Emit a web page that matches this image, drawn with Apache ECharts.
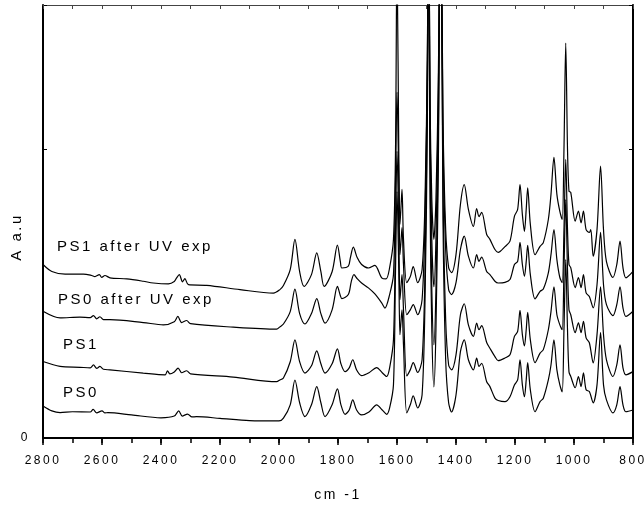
<!DOCTYPE html>
<html>
<head>
<meta charset="utf-8">
<script src="https://cdn.jsdelivr.net/npm/echarts@6/dist/echarts.min.js"></script>
<style>html,body{margin:0;padding:0;background:#fff}#c{width:644px;height:506px}</style>
</head>
<body>
<div id="c"></div>
<script>
// [wavenumber (cm-1), absorbance (a.u., offset traces)]
var ps1AfterUV = [
[2800,0.601],[2770,0.577],[2725,0.568],[2663,0.568],[2635,0.563],[2624,0.559],[2609,0.566],[2601,0.556],[2590,0.563],[2573,0.555],
[2516,0.551],[2460,0.543],[2426,0.537],[2375,0.534],[2355,0.542],[2347,0.555],[2338,0.566],[2327,0.541],[2319,0.552],[2307,0.531],
[2245,0.529],[2132,0.514],[2019,0.502],[1997,0.514],[1985,0.528],[1962,0.583],[1946,0.688],[1930,0.576],[1915,0.525],[1890,0.566],
[1872,0.641],[1858,0.576],[1847,0.525],[1820,0.576],[1802,0.668],[1792,0.611],[1787,0.589],[1765,0.595],[1758,0.625],[1748,0.661],
[1735,0.625],[1720,0.601],[1697,0.589],[1675,0.598],[1652,0.555],[1637,0.551],[1625,0.590],[1612,0.688],[1605,1.0],[1600,1.7],
[1594,1.0],[1590,0.740],[1586,0.809],[1583,0.861],[1578,0.688],[1567,0.538],[1555,0.559],[1545,0.594],[1530,0.538],[1515,0.583],
[1505,0.826],[1497,1.347],[1493,2.0],[1488,1.174],[1482,0.826],[1475,0.688],[1468,0.826],[1460,1.243],[1452,2.0],[1444,1.104],
[1435,0.722],[1425,0.590],[1415,0.573],[1400,0.635],[1385,0.809],[1372,0.878],[1358,0.792],[1341,0.733],[1330,0.795],[1322,0.767],
[1313,0.782],[1296,0.705],[1285,0.688],[1268,0.653],[1257,0.643],[1234,0.663],[1217,0.682],[1202,0.768],[1191,0.792],[1183,0.878],
[1175,0.774],[1168,0.716],[1162,0.792],[1157,0.867],[1148,0.740],[1132,0.635],[1115,0.664],[1104,0.677],[1087,0.757],[1078,0.844],
[1068,0.972],[1058,0.844],[1048,0.785],[1040,0.757],[1034,1.0],[1028,1.368],[1022,1.0],[1017,0.855],[1011,0.851],[996,0.751],
[985,0.786],[976,0.745],[968,0.786],[959,0.722],[948,0.712],[943,0.722],[935,0.630],[922,0.722],[910,0.942],[900,0.722],
[890,0.611],[868,0.556],[855,0.601],[844,0.682],[834,0.590],[824,0.555],[800,0.577]
];
var ps0AfterUV = [
[2800,0.439],[2742,0.416],[2675,0.419],[2640,0.417],[2629,0.424],[2618,0.413],[2607,0.420],[2595,0.410],[2573,0.410],[2460,0.400],
[2392,0.392],[2355,0.403],[2343,0.421],[2330,0.400],[2313,0.407],[2300,0.396],[2155,0.384],[2008,0.377],[1997,0.385],[1985,0.395],
[1962,0.438],[1946,0.516],[1930,0.431],[1912,0.395],[1890,0.431],[1872,0.483],[1858,0.431],[1844,0.398],[1820,0.444],[1802,0.525],
[1792,0.493],[1787,0.483],[1765,0.497],[1755,0.542],[1746,0.566],[1735,0.552],[1720,0.537],[1697,0.520],[1675,0.499],[1652,0.468],
[1641,0.450],[1625,0.497],[1612,0.566],[1605,0.896],[1600,1.198],[1594,0.896],[1590,0.635],[1586,0.688],[1583,0.729],[1578,0.601],
[1567,0.427],[1555,0.444],[1545,0.462],[1530,0.427],[1515,0.479],[1505,0.757],[1497,1.313],[1493,2.0],[1488,1.104],[1482,0.688],
[1475,0.524],[1468,0.688],[1460,1.174],[1452,2.0],[1444,1.035],[1435,0.653],[1425,0.514],[1415,0.497],[1400,0.538],[1385,0.653],
[1372,0.699],[1358,0.630],[1341,0.589],[1330,0.635],[1322,0.612],[1313,0.627],[1296,0.577],[1285,0.566],[1268,0.543],[1257,0.537],
[1234,0.539],[1217,0.549],[1202,0.601],[1191,0.612],[1183,0.678],[1175,0.601],[1168,0.560],[1162,0.611],[1157,0.667],[1148,0.566],
[1132,0.482],[1115,0.508],[1104,0.516],[1087,0.572],[1078,0.635],[1068,0.722],[1058,0.618],[1048,0.556],[1040,0.538],[1034,0.722],
[1028,0.965],[1022,0.722],[1017,0.601],[1011,0.590],[996,0.521],[985,0.556],[976,0.521],[968,0.566],[959,0.503],[948,0.490],
[935,0.451],[922,0.531],[910,0.712],[900,0.531],[890,0.462],[868,0.424],[855,0.462],[844,0.524],[834,0.451],[824,0.421],[800,0.439]
];
var ps1 = [
[2800,0.265],[2742,0.248],[2675,0.245],[2640,0.243],[2629,0.253],[2618,0.241],[2607,0.248],[2595,0.238],[2573,0.236],[2460,0.225],
[2386,0.219],[2378,0.233],[2370,0.222],[2355,0.229],[2342,0.242],[2330,0.226],[2313,0.233],[2300,0.222],[2155,0.211],[2008,0.195],
[1997,0.201],[1985,0.208],[1962,0.264],[1946,0.340],[1930,0.264],[1912,0.225],[1890,0.250],[1872,0.302],[1858,0.257],[1844,0.225],
[1820,0.257],[1802,0.309],[1790,0.257],[1776,0.230],[1762,0.243],[1750,0.271],[1737,0.236],[1720,0.216],[1695,0.226],[1669,0.244],
[1650,0.226],[1635,0.213],[1625,0.243],[1612,0.340],[1605,0.722],[1600,0.993],[1594,0.722],[1590,0.479],[1586,0.531],[1583,0.566],
[1578,0.444],[1567,0.215],[1555,0.236],[1545,0.261],[1530,0.227],[1515,0.271],[1505,0.583],[1497,1.208],[1493,2.0],[1488,0.965],
[1482,0.514],[1475,0.323],[1468,0.514],[1460,1.035],[1452,2.0],[1444,0.861],[1435,0.410],[1425,0.253],[1415,0.236],[1400,0.288],
[1385,0.427],[1372,0.465],[1358,0.392],[1341,0.352],[1330,0.398],[1322,0.375],[1313,0.389],[1296,0.331],[1285,0.311],[1268,0.282],
[1257,0.268],[1234,0.277],[1217,0.288],[1202,0.352],[1191,0.369],[1183,0.442],[1175,0.358],[1168,0.319],[1162,0.375],[1157,0.435],
[1148,0.340],[1132,0.261],[1115,0.294],[1104,0.306],[1087,0.375],[1078,0.438],[1068,0.524],[1058,0.427],[1048,0.392],[1040,0.375],
[1034,0.583],[1028,0.826],[1022,0.583],[1017,0.444],[1011,0.427],[996,0.365],[985,0.399],[976,0.365],[968,0.404],[959,0.347],
[948,0.330],[935,0.260],[922,0.358],[910,0.524],[900,0.358],[890,0.271],[868,0.213],[855,0.253],[844,0.323],[834,0.243],[824,0.219],[800,0.230]
];
var ps0 = [
[2800,0.111],[2770,0.094],[2742,0.088],[2700,0.091],[2640,0.090],[2630,0.099],[2618,0.087],[2600,0.094],[2590,0.087],[2580,0.088],
[2500,0.080],[2400,0.070],[2355,0.076],[2340,0.094],[2328,0.076],[2310,0.083],[2295,0.073],[2280,0.074],[2200,0.068],[2100,0.060],
[2000,0.059],[1985,0.069],[1962,0.115],[1946,0.201],[1930,0.122],[1912,0.074],[1890,0.115],[1872,0.178],[1858,0.122],[1844,0.074],
[1820,0.115],[1802,0.170],[1790,0.115],[1776,0.082],[1762,0.097],[1750,0.132],[1737,0.097],[1720,0.080],[1695,0.090],[1669,0.115],
[1650,0.097],[1635,0.082],[1625,0.104],[1612,0.184],[1605,0.583],[1600,0.854],[1594,0.583],[1590,0.358],[1586,0.410],[1583,0.444],
[1578,0.323],[1567,0.087],[1555,0.115],[1545,0.146],[1530,0.104],[1515,0.149],[1505,0.479],[1497,1.104],[1493,2.0],[1488,0.826],
[1482,0.375],[1475,0.177],[1468,0.375],[1460,0.931],[1452,2.0],[1444,0.757],[1435,0.271],[1425,0.122],[1415,0.090],[1400,0.149],
[1385,0.299],[1372,0.340],[1358,0.271],[1341,0.236],[1330,0.277],[1322,0.248],[1313,0.259],[1296,0.195],[1285,0.178],[1268,0.138],
[1257,0.130],[1234,0.126],[1217,0.143],[1202,0.184],[1191,0.201],[1183,0.271],[1175,0.184],[1168,0.143],[1162,0.201],[1157,0.261],
[1148,0.167],[1132,0.091],[1115,0.126],[1104,0.138],[1087,0.201],[1078,0.253],[1068,0.340],[1058,0.236],[1048,0.184],[1040,0.160],
[1034,0.375],[1028,0.618],[1022,0.375],[1017,0.229],[1011,0.213],[996,0.174],[985,0.213],[976,0.178],[968,0.226],[959,0.167],
[948,0.161],[935,0.122],[922,0.184],[910,0.365],[900,0.184],[890,0.132],[868,0.087],[855,0.115],[844,0.178],[834,0.115],[824,0.091],[800,0.097]
];
var seriesNames = ['PS1 after UV exp', 'PS0 after UV exp', 'PS1', 'PS0'];
var seriesData = [ps1AfterUV, ps0AfterUV, ps1, ps0];
var labelPos = [[57, 248], [58, 301], [63, 346], [63, 394]];
var yTitle = 'A a.u';
var xMin = 800, xMax = 2800, yMin = 0, yMax = 1.5;

var FONT = '"Liberation Sans", Arial, sans-serif';
var chart = echarts.init(document.getElementById('c'), null, {renderer: 'canvas'});
var lineStyle = {color: '#000', width: 1.2};
var graphics = seriesNames.map(function (n, i) {
  return {type: 'text', left: labelPos[i][0], top: labelPos[i][1] - 9,
    style: {text: n, fontFamily: FONT, fontSize: 15, fill: '#000'}, z: 10};
});
graphics.push({type: 'text', x: 17, y: 237, rotation: Math.PI / 2,
  style: {text: yTitle, fontFamily: FONT, fontSize: 15, fill: '#000', align: 'center', verticalAlign: 'middle'}, z: 10});
chart.setOption({
  animation: false,
  backgroundColor: '#fff',
  grid: {left: 43, right: 11, top: 5, bottom: 68, containLabel: false, outerBoundsMode: 'none'},
  xAxis: [{
    type: 'value', min: xMin, max: xMax, inverse: true, interval: 200,
    name: 'cm -1', nameLocation: 'middle', nameGap: 50,
    nameTextStyle: {fontFamily: FONT, fontSize: 14, color: '#000'},
    axisLine: {show: true, onZero: false, lineStyle: {color: '#000', width: 2}},
    axisTick: {show: true, inside: false, length: 7, lineStyle: {color: '#000', width: 1.5}},
    axisLabel: {fontFamily: FONT, fontSize: 12, color: '#000', margin: 17,
      formatter: function (v) { return String(v); }},
    splitLine: {show: false}
  }, {
    type: 'value', position: 'top', min: xMin, max: xMax, inverse: true, interval: 100,
    axisLine: {show: true, onZero: false, lineStyle: {color: '#444', width: 1}},
    axisTick: {show: true, inside: true, length: 4, lineStyle: {color: '#444', width: 1}},
    axisLabel: {show: false}, splitLine: {show: false}
  }, {
    type: 'value', position: 'bottom', min: xMin, max: xMax, inverse: true, interval: 100,
    axisLine: {show: false, onZero: false},
    axisTick: {show: true, inside: false, length: 5, lineStyle: {color: '#000', width: 1.5}},
    axisLabel: {show: false}, splitLine: {show: false}
  }],
  yAxis: [{
    type: 'value', min: yMin, max: yMax, interval: 1,
    axisLine: {show: true, onZero: false, lineStyle: {color: '#000', width: 2}},
    axisTick: {show: true, inside: true, length: 4, lineStyle: {color: '#000', width: 1}},
    axisLabel: {fontFamily: FONT, fontSize: 12, color: '#000', margin: 13,
      formatter: function (v) { return v === 0 ? '0' : ''; }},
    splitLine: {show: false}
  }, {
    type: 'value', position: 'right', min: yMin, max: yMax, interval: 1,
    axisLine: {show: true, onZero: false, lineStyle: {color: '#000', width: 2}},
    axisTick: {show: true, inside: true, length: 4, lineStyle: {color: '#000', width: 1}},
    axisLabel: {show: false}, splitLine: {show: false}
  }],
  series: seriesData.map(function (d, i) {
    return {
      name: seriesNames[i], type: 'line', data: d, xAxisIndex: 0, yAxisIndex: 0,
      showSymbol: false, symbol: 'none', smooth: 0.3, clip: true,
      lineStyle: lineStyle, z: 3
    };
  }),
  graphic: graphics
});
// widen glyph spacing like the original export, then repaint every layer
try {
  var cvs = document.querySelectorAll('#c canvas');
  var done = false;
  for (var k = 0; k < cvs.length; k++) {
    var cx = cvs[k].getContext('2d');
    if ('letterSpacing' in cx) { cx.letterSpacing = '2.5px'; done = true; }
  }
  if (done) { chart.getZr().painter.refresh(true); }
} catch (e) {}
</script>
</body>
</html>
